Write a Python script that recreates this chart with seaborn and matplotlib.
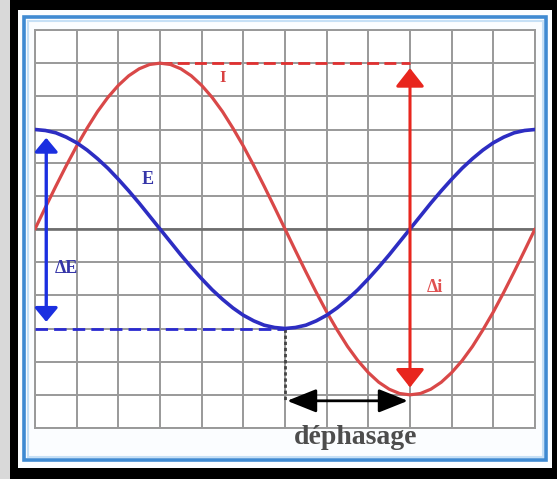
import matplotlib
matplotlib.use("Agg")
import matplotlib.pyplot as plt
from matplotlib.patches import Rectangle, ArrowStyle
import seaborn as sns
import pandas as pd

# Sampled time axis (grid divisions) and the two signals
t_div = [0, 0.25, 0.5, 0.75, 1, 1.25, 1.5, 1.75, 2, 2.25, 2.5, 2.75, 3,
         3.25, 3.5, 3.75, 4, 4.25, 4.5, 4.75, 5, 5.25, 5.5, 5.75, 6,
         6.25, 6.5, 6.75, 7, 7.25, 7.5, 7.75, 8, 8.25, 8.5, 8.75, 9,
         9.25, 9.5, 9.75, 10, 10.25, 10.5, 10.75, 11, 11.25, 11.5, 11.75, 12]
current_i = [0, 0.65, 1.29, 1.91, 2.5, 3.04, 3.54, 3.97, 4.33, 4.62, 4.83, 4.96, 5,
             4.96, 4.83, 4.62, 4.33, 3.97, 3.54, 3.04, 2.5, 1.91, 1.29, 0.65, 0,
             -0.65, -1.29, -1.91, -2.5, -3.04, -3.54, -3.97, -4.33, -4.62, -4.83, -4.96, -5,
             -4.96, -4.83, -4.62, -4.33, -3.97, -3.54, -3.04, -2.5, -1.91, -1.29, -0.65, 0]
voltage_e = [3, 2.97, 2.9, 2.77, 2.6, 2.38, 2.12, 1.83, 1.5, 1.15, 0.78, 0.39, 0,
             -0.39, -0.78, -1.15, -1.5, -1.83, -2.12, -2.38, -2.6, -2.77, -2.9, -2.97, -3,
             -2.97, -2.9, -2.77, -2.6, -2.38, -2.12, -1.83, -1.5, -1.15, -0.78, -0.39, 0,
             0.39, 0.78, 1.15, 1.5, 1.83, 2.12, 2.38, 2.6, 2.77, 2.9, 2.97, 3]

# Key readings used by the annotations
i_peak = 5
i_peak_t = 3
i_trough = -5
i_trough_t = 9
e_peak = 3
e_trough = -3
e_trough_t = 6

labels = {"I": "I", "E": "E", "dE": "ΔE", "di": "Δi", "phase": "déphasage"}

sns.set_theme(style="white")
plt.rcParams["font.family"] = ["Liberation Serif", "DejaVu Serif"]

W, H = 557, 479
fig = plt.figure(figsize=(W / 100, H / 100), dpi=100, facecolor="black")

# Outer decoration: grey strip, white panel and blue frame
fig.patches.append(Rectangle((0, 0), 10 / W, 1, transform=fig.transFigure,
                             facecolor="#d9d9d9", edgecolor="none", zorder=-3))
fig.patches.append(Rectangle((18 / W, (H - 468) / H), 534 / W, 458 / H,
                             transform=fig.transFigure, facecolor="#fbfdff",
                             edgecolor="none", zorder=-3))
fig.patches.append(Rectangle((24 / W, (H - 460) / H), 522 / W, 443 / H,
                             transform=fig.transFigure, facecolor="none",
                             edgecolor="#3f8ad2", linewidth=2.6, zorder=-2))
fig.patches.append(Rectangle((27.5 / W, (H - 456.5) / H), 515 / W, 436 / H,
                             transform=fig.transFigure, facecolor="none",
                             edgecolor="#c6e0f6", linewidth=1.5, zorder=-2))

ax = fig.add_axes([35 / W, (H - 428) / H, 500 / W, 398 / H])
ax.set_zorder(5)
ax.set_facecolor("white")
ax.set_xlim(0, 12)
ax.set_ylim(-6, 6)
ax.set_xticks(range(0, 13))
ax.set_yticks(range(-6, 7))
ax.tick_params(left=False, bottom=False, labelleft=False, labelbottom=False)
ax.grid(True, color="#999999", linewidth=1.4)
ax.set_axisbelow(True)
for sp in ax.spines.values():
    sp.set_color("#999999")
    sp.set_linewidth(1.4)
ax.axhline(0, color="#6e6e6e", linewidth=1.9, zorder=1)

df = pd.DataFrame({"t": t_div, "i": current_i, "e": voltage_e})
sns.lineplot(data=df, x="t", y="i", ax=ax, color="#d94848", linewidth=2.3, zorder=4)
sns.lineplot(data=df, x="t", y="e", ax=ax, color="#2d2dc2", linewidth=2.6, zorder=5)
ax.set_xlabel("")
ax.set_ylabel("")

# Dashed guides
ax.plot([i_peak_t, i_trough_t], [i_peak, i_peak], color="#e03030",
        linewidth=2.0, dashes=(4.3, 1.9), zorder=3)
ax.plot([0, e_trough_t], [e_trough, e_trough], color="#2a2ad0",
        linewidth=2.0, dashes=(4.5, 2.2), zorder=3)
ax.plot([e_trough_t, e_trough_t], [e_trough, -5.18], color="#444444",
        linewidth=2.0, dashes=(1.2, 1.0), zorder=3)

# Amplitude and phase arrows
ax.annotate("", xy=(0.27, e_peak - 0.25), xytext=(0.27, e_trough + 0.2),
            arrowprops=dict(arrowstyle=ArrowStyle("<|-|>", head_length=0.6, head_width=0.5),
                            mutation_scale=14, color="#1b2fe0", linewidth=2.4,
                            shrinkA=0, shrinkB=0),
            zorder=6)
ax.annotate("", xy=(i_trough_t, i_peak - 0.15), xytext=(i_trough_t, i_trough + 0.22),
            arrowprops=dict(arrowstyle=ArrowStyle("<|-|>", head_length=0.7, head_width=0.55),
                            mutation_scale=16, color="#e8261e", linewidth=2.2,
                            shrinkA=0, shrinkB=0),
            zorder=6)
ax.annotate("", xy=(e_trough_t + 0.05, -5.18), xytext=(i_trough_t - 0.05, -5.18),
            arrowprops=dict(arrowstyle=ArrowStyle("<|-|>", head_length=1.0, head_width=0.4),
                            mutation_scale=18, color="black", linewidth=2.0,
                            shrinkA=0, shrinkB=0),
            zorder=6)

# Labels
ax.text(4.5, 4.55, labels["I"], color="#d84040", fontsize=12, fontweight="bold",
        ha="center", va="center", zorder=7)
ax.text(2.7, 1.5, labels["E"], color="#3535a8", fontsize=13, fontweight="bold",
        ha="center", va="center", zorder=7)
ax.text(0.75, -1.2, labels["dE"], color="#3535a8", fontsize=13, fontweight="bold",
        ha="center", va="center", zorder=7)
ax.text(9.6, -1.75, labels["di"], color="#e05050", fontsize=13, fontweight="bold",
        ha="center", va="center", zorder=7)
ax.text(7.7, -6.3, labels["phase"], color="#4d4d4d", fontsize=20, fontweight="bold",
        ha="center", va="center", clip_on=False, zorder=7)

fig.savefig("out.png", dpi=100, facecolor=fig.get_facecolor())
